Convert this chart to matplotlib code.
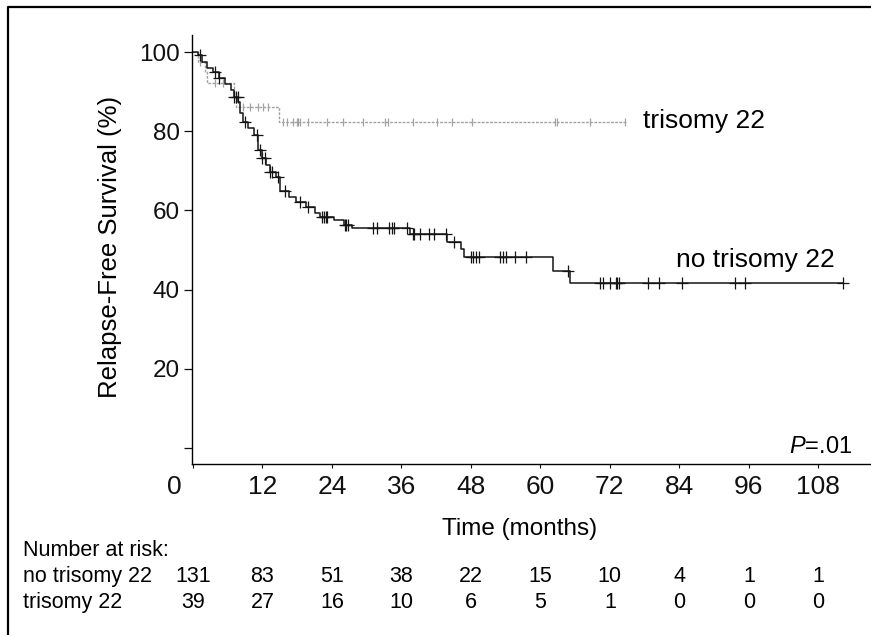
import numpy as np
import matplotlib
matplotlib.use('Agg')
import matplotlib.pyplot as plt
from matplotlib.lines import Line2D
from matplotlib.transforms import blended_transform_factory, offset_copy

plt.rcParams['font.family'] = ['Liberation Sans', 'DejaVu Sans']
plt.rcParams['mathtext.fontset'] = 'custom'
plt.rcParams['mathtext.it'] = 'Liberation Sans:italic'
plt.rcParams['mathtext.rm'] = 'Liberation Sans'

# ---- datos ----
# no trisomy 22: tiempos de evento (meses) y supervivencia (%)
t_no = [0, 0.8, 1.5, 2.5, 3.5, 4.5, 5.5, 6.5, 7.0, 7.8, 8.2, 8.7, 9.5, 10.5,
        11.3, 12.0, 12.6, 13.3, 14.4, 15.0, 16.5, 17.8, 19.5, 21.0, 22.0,
        24.3, 26.0, 27.5, 37.5, 43.8, 46.3, 46.8, 62.1, 65.2]
s_no = [100, 99.2, 97.5, 96, 95, 93.5, 92, 90.5, 88.6, 87.4, 84.5, 82.4, 80.8, 79,
        75.3, 73.2, 71.5, 69.7, 68.4, 65, 63.4, 62, 60.9, 59.3, 58.3,
        57.6, 56.3, 55.6, 54.1, 52.1, 50.2, 48.3, 44.8, 41.7]
end_no = 112.3
cens_no = [1.2, 3.8, 4.5, 7.1, 7.4, 7.7, 9.0, 11.0, 11.6, 12.0, 12.4, 13.3, 13.6,
           14.7, 15.9, 18.5, 19.9, 22.3, 22.6, 22.9, 23.1, 26.2, 26.5, 26.8,
           31.1, 31.8, 33.9, 34.3, 34.7, 36.9, 38.0, 38.2, 39.2, 40.8, 41.6,
           43.7, 45.1, 48.0, 48.4, 48.9, 49.4, 53.0, 53.5, 54.1, 55.6, 57.5,
           64.8, 70.3, 70.8, 72.0, 73.1, 73.3, 73.6, 78.5, 80.4, 84.4, 93.6,
           95.3, 112.2]

# trisomy 22
t_tri = [0, 0.9, 2.0, 2.5, 7.0, 7.5, 14.9]
s_tri = [100, 97.4, 94.9, 92.3, 89.7, 86.2, 82.3]
end_tri = 75.0
cens_tri = [1.2, 3.8, 5.2, 8.7, 9.8, 11.3, 12.1, 13.0, 15.6, 16.2, 17.3, 17.9,
            18.2, 18.5, 19.9, 23.1, 25.9, 29.4, 33.2, 33.7, 38.0, 42.1, 44.7,
            48.2, 62.5, 62.9, 68.6, 74.6]

# numero en riesgo
risk_times = [0, 12, 24, 36, 48, 60, 72, 84, 96, 108]
risk_no = [131, 83, 51, 38, 22, 15, 10, 4, 1, 1]
risk_tri = [39, 27, 16, 10, 6, 5, 1, 0, 0, 0]

xticks = [0, 12, 24, 36, 48, 60, 72, 84, 96, 108]
yticks = [0, 20, 40, 60, 80, 100]


def step_value(t, s, x):
    idx = np.searchsorted(np.array(t), np.array(x), side='right') - 1
    return np.array(s)[idx]


W, H = 871, 635
fig = plt.figure(figsize=(W / 100, H / 100), dpi=100)
ax = fig.add_axes([192 / W, 171 / H, 679 / W, 429 / H])

# curvas
ax.plot(t_tri + [end_tri], s_tri + [s_tri[-1]], drawstyle='steps-post',
        color='#a2a2a2', lw=1.0, ls=(0, (2, 1)))
ax.plot(cens_tri, step_value(t_tri, s_tri, cens_tri), ls='none', marker='|',
        ms=6, mew=0.9, color='#a2a2a2')
ax.plot(t_no + [end_no], s_no + [s_no[-1]], drawstyle='steps-post',
        color='#151515', lw=1.1)
ax.plot(cens_no, step_value(t_no, s_no, cens_no), ls='none', marker='+',
        ms=8, mew=0.9, color='#151515')

ax.set_xlim(-0.17, 117.1)
ax.set_ylim(-4.04, 104.3)
ax.spines['top'].set_visible(False)
ax.spines['right'].set_visible(False)
ax.spines['left'].set_linewidth(1.0)
ax.spines['bottom'].set_linewidth(1.0)

ax.set_xticks(xticks)
ax.set_xticklabels([''] + [str(v) for v in xticks[1:]], fontsize=19)
ax.set_yticks(yticks)
ax.set_yticklabels([''] + [str(v) for v in yticks[1:]], fontsize=17.5)
ax.tick_params(axis='x', length=3, width=0.8, pad=5, colors='#111111')
ax.tick_params(axis='y', length=6, width=0.9, pad=3, colors='#111111')

# etiqueta "0" desplazada a la izquierda
tr0 = offset_copy(blended_transform_factory(ax.transData, ax.transAxes),
                  fig=fig, x=-13.7, y=-8, units='points')
ax.text(0, 0, '0', transform=tr0, ha='center', va='top', fontsize=19,
        color='#111111')

fig.text(110 / W, 1 - 247 / H, 'Relapse-Free Survival (%)', rotation=90,
         ha='center', va='center', fontsize=18.5)
fig.text(520 / W, 1 - 535 / H, 'Time (months)', ha='center', va='baseline',
         fontsize=17.5)

fig.text(643 / W, 1 - 121 / H, 'trisomy 22', ha='left', va='center', fontsize=19)
fig.text(676 / W, 1 - 260 / H, 'no trisomy 22', ha='left', va='center', fontsize=19)
fig.text(852 / W, 1 - 453 / H, '$P$=.01', ha='right', va='baseline', fontsize=17)

# tabla de numero en riesgo
fig.text(23 / W, 1 - 556 / H, 'Number at risk:', ha='left', va='baseline', fontsize=15.5)
fig.text(23 / W, 1 - 582 / H, 'no trisomy 22', ha='left', va='baseline', fontsize=15.5)
fig.text(23 / W, 1 - 608 / H, 'trisomy 22', ha='left', va='baseline', fontsize=15.5)
trow = blended_transform_factory(ax.transData, fig.transFigure)
for x, a, b in zip(risk_times, risk_no, risk_tri):
    ax.text(x, 1 - 582 / H, str(a), transform=trow, ha='center', va='baseline',
            fontsize=15.5, clip_on=False)
    ax.text(x, 1 - 608 / H, str(b), transform=trow, ha='center', va='baseline',
            fontsize=15.5, clip_on=False)

# marco de la figura
fig.add_artist(Line2D([8 / W, 8 / W, 1.0], [0.0, 1 - 7 / H, 1 - 7 / H],
                      transform=fig.transFigure, color='black', lw=1.6))

fig.savefig('out.png', dpi=100)
